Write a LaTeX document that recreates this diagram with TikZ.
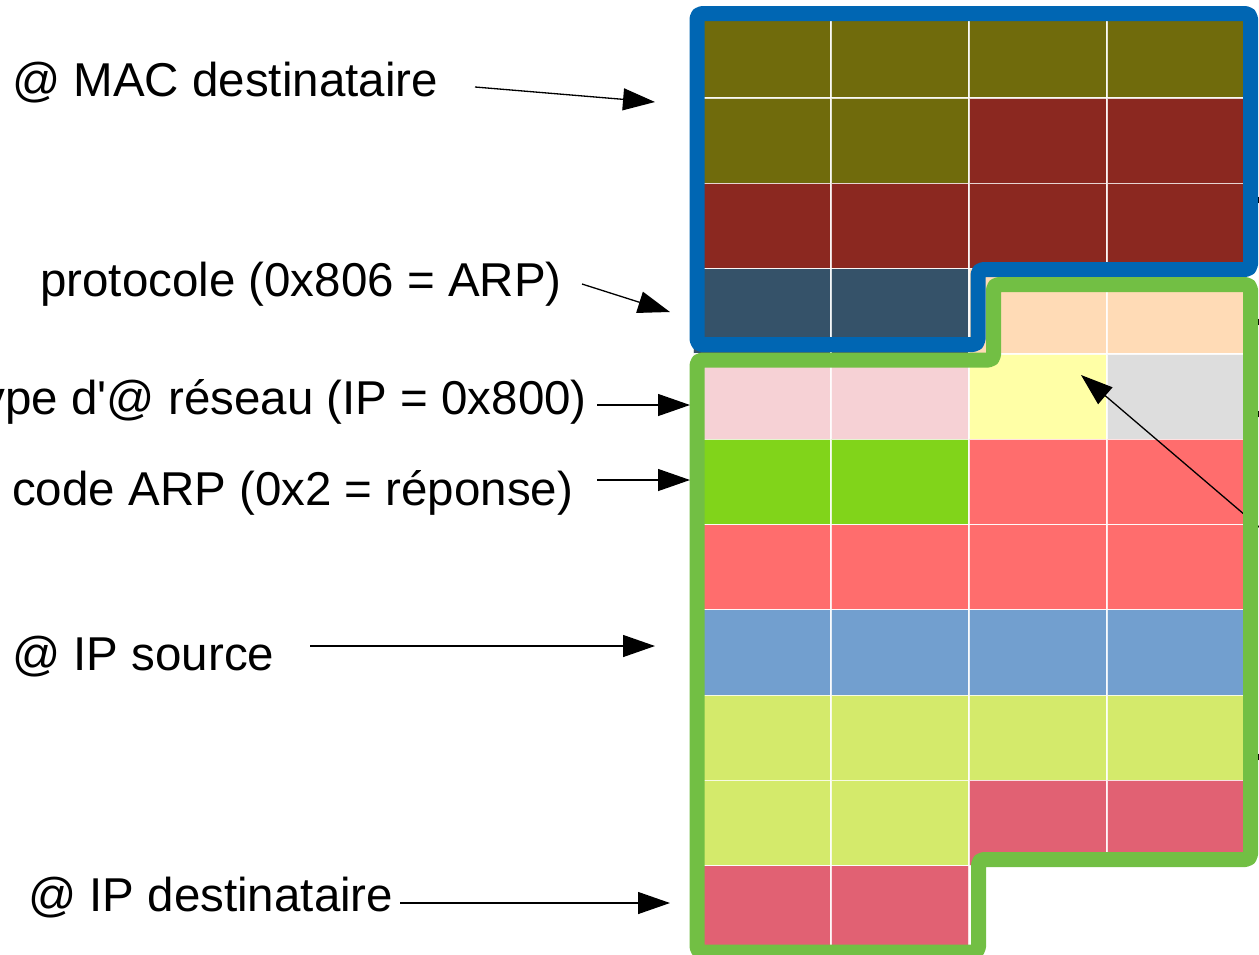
\documentclass[tikz,border=0pt]{standalone}
\usepackage{fontspec}
\setmainfont{Liberation Sans}
\usetikzlibrary{arrows.meta}

\definecolor{olivecell}{RGB}{112,107,12}
\definecolor{redcell}{RGB}{139,40,32}
\definecolor{slatecell}{RGB}{53,82,105}
\definecolor{peachcell}{RGB}{255,219,182}
\definecolor{pinkcell}{RGB}{246,209,213}
\definecolor{yellowcell}{RGB}{255,255,166}
\definecolor{graycell}{RGB}{221,221,221}
\definecolor{greencell}{RGB}{129,212,26}
\definecolor{salmoncell}{RGB}{255,109,109}
\definecolor{bluecell}{RGB}{114,159,207}
\definecolor{limecell}{RGB}{212,234,107}
\definecolor{rosecell}{RGB}{225,97,115}
\definecolor{macborder}{RGB}{0,102,179}
\definecolor{ipborder}{RGB}{114,191,68}

\tikzset{
  cell/.style={draw=white, draw opacity=.8, line width=1.2pt},
  frame/.style={line width=15pt, rounded corners=5pt, line join=round},
  lbl/.style={inner sep=0pt, font=\fontsize{47.5}{57}\selectfont},
  ptr/.style={line width=1.3pt, -{Triangle[length=32pt, width=22pt]}}
}

\begin{document}
\begin{tikzpicture}[x=1pt, y=-1pt]
  \useasboundingbox (0,0) rectangle (1259,954);
  \foreach \r/\cols in {
      0/{olivecell,olivecell,olivecell,olivecell},
      1/{olivecell,olivecell,redcell,redcell},
      2/{redcell,redcell,redcell,redcell},
      3/{slatecell,slatecell,peachcell,peachcell},
      4/{pinkcell,pinkcell,yellowcell,graycell},
      5/{greencell,greencell,salmoncell,salmoncell},
      6/{salmoncell,salmoncell,salmoncell,salmoncell},
      7/{bluecell,bluecell,bluecell,bluecell},
      8/{limecell,limecell,limecell,limecell},
      9/{limecell,limecell,rosecell,rosecell},
      10/{rosecell,rosecell}}
    \foreach \col [count=\c from 0] in \cols
      \draw[cell, fill=\col] (693+138*\c, 12.7+85.3*\r) rectangle ++(138,85.3);

  \coordinate (netfrom) at (1300,562);
  \coordinate (netto) at (1081,375);
  \draw[ptr] (netfrom) -- (netto);
  \foreach \y in {200,322,414,757}
    \draw[ptr] (1330,\y) -- (1250,\y);

  \draw[frame, macborder] (697,13.5) -- (1250.5,13.5) -- (1250.5,269.5)
    -- (978,269.5) -- (978,344.5) -- (697,344.5) -- cycle;
  \draw[frame, ipborder] (697,360) -- (993.5,360) -- (993.5,284.5)
    -- (1250.5,284.5) -- (1250.5,859.5) -- (978.5,859.5) -- (978.5,952)
    -- (697,952) -- cycle;

  \node[lbl, anchor=base west] (macdst) at (12,96) {@ MAC destinataire};
  \node[lbl, anchor=base west] (proto) at (40,296) {protocole (0x806 = ARP)};
  \node[lbl, anchor=base east] (nettype) at (587,414) {type d\textquotesingle @ réseau (IP = 0x800)};
  \node[lbl, anchor=base west] (opcode) at (12,505) {code ARP (0x2 = réponse)};
  \node[lbl, anchor=base west] (ipsrc) at (12,670) {@ IP source};
  \node[lbl, anchor=base west] (ipdst) at (28,911) {@ IP destinataire};

  \coordinate (macfrom) at (475,87);
  \coordinate (macto) at (655,102);
  \coordinate (protofrom) at (582,284);
  \coordinate (prototo) at (670,312);
  \coordinate (typefrom) at (597,405);
  \coordinate (typeto) at (690,405);
  \coordinate (codefrom) at (597,480);
  \coordinate (codeto) at (690,480);
  \coordinate (srcfrom) at (310,646);
  \coordinate (srcto) at (655,646);
  \coordinate (dstfrom) at (400,903);
  \coordinate (dstto) at (670,903);
  \draw[ptr] (macfrom) -- (macto);
  \draw[ptr] (protofrom) -- (prototo);
  \draw[ptr] (typefrom) -- (typeto);
  \draw[ptr] (codefrom) -- (codeto);
  \draw[ptr] (srcfrom) -- (srcto);
  \draw[ptr] (dstfrom) -- (dstto);
\end{tikzpicture}
\end{document}
